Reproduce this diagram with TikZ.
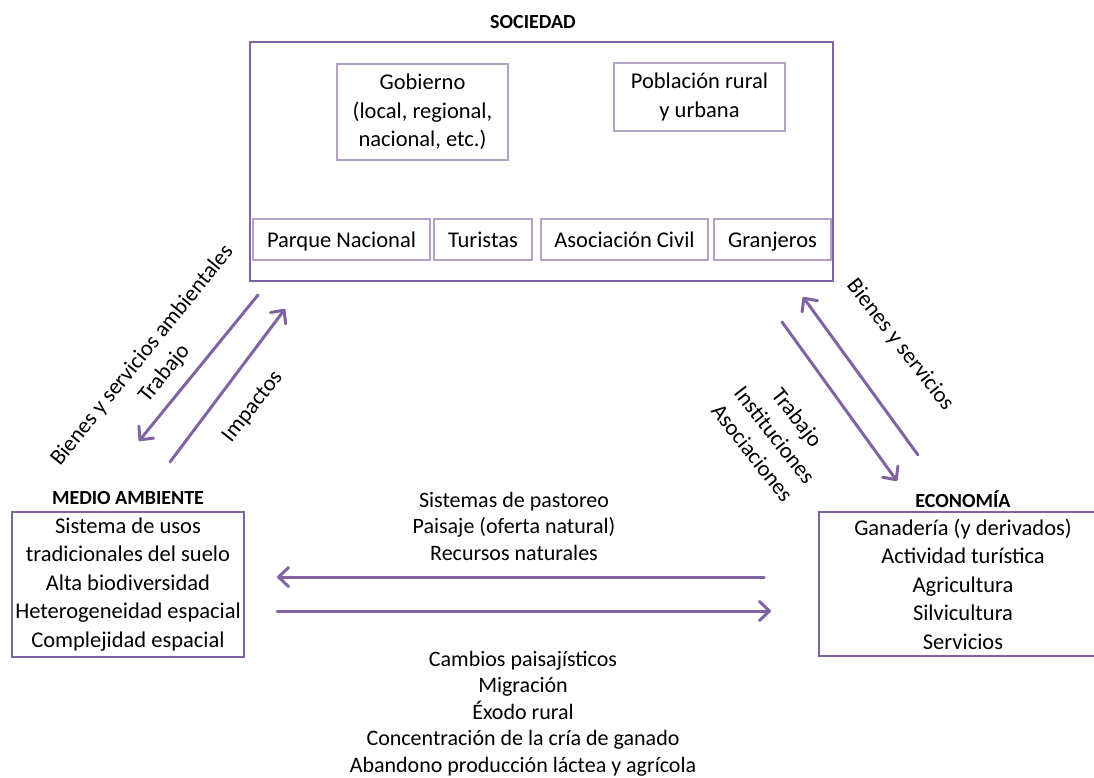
\documentclass[tikz,border=0pt]{standalone}
\usepackage{fontspec}
\setmainfont{Carlito}
\usetikzlibrary{arrows.meta}

\definecolor{lineviolet}{HTML}{8064A2}
\definecolor{paleviolet}{HTML}{B3A2C7}

\newcommand\dgbody{\fontsize{22.5}{28.5}\selectfont}
\newcommand\dgfree{\fontsize{22}{26.5}\selectfont}
\newcommand\dgtitle{\fontsize{20}{24}\selectfont\bfseries}

\tikzset{
  frame/.style={draw=lineviolet, line width=2.2pt, inner sep=0pt, align=center, font=\dgbody},
  subbox/.style={draw=paleviolet, line width=1.4pt, inner sep=0pt, align=center, font=\dgbody},
  rowbox/.style={subbox, minimum height=41pt, text height=20pt, text depth=3.5pt},
  heading/.style={inner sep=0pt, font=\dgtitle},
  freetext/.style={inner sep=0pt, align=center, font=\dgfree},
  flow/.style={draw=lineviolet, line width=3pt, line cap=round,
    -{Straight Barb[length=10pt,width=19pt,line width=3pt,round]}}
}

\begin{document}
\begin{tikzpicture}[x=1pt,y=-1pt]
\useasboundingbox (0,0) rectangle (1094,778);
\clip (0,0) rectangle (1094,778);

% Sociedad
\node[heading] (soctitle) at (533,22) {SOCIEDAD};
\node[frame, minimum width=583pt, minimum height=239pt] (soc) at (541.5,161.5) {};
\node[subbox, minimum width=171pt, minimum height=96pt] (gob) at (422.5,112)
  {Gobierno\\(local, regional,\\nacional, etc.)};
\node[subbox, minimum width=171pt, minimum height=68pt] (pob) at (699.5,97)
  {Población rural\\y urbana};
\node[rowbox, minimum width=177pt] (parque) at (341.5,239.5) {Parque Nacional};
\node[rowbox, minimum width=98pt] (tur) at (483,239.5) {Turistas};
\node[rowbox, minimum width=167pt] (asoc) at (624.5,239.5) {Asociación Civil};
\node[rowbox, minimum width=117pt] (gran) at (772.5,239.5) {Granjeros};

% Medio ambiente
\node[heading] (medtitle) at (128,498) {MEDIO AMBIENTE};
\node[frame, minimum width=232pt, minimum height=145pt] (med) at (128,584.5)
  {Sistema de usos\\tradicionales del suelo\\Alta biodiversidad\\Heterogeneidad espacial\\Complejidad espacial};

% Economia
\node[heading] (ecotitle) at (963,499) {ECONOMÍA};
\node[frame, minimum width=288pt, minimum height=144pt] (eco) at (963,584)
  {Ganadería (y derivados)\\Actividad turística\\Agricultura\\Silvicultura\\Servicios};

% Sociedad <-> Medio ambiente
\coordinate (sm1a) at (258,295);
\coordinate (sm1b) at (139,441);
\coordinate (sm2a) at (170,462);
\coordinate (sm2b) at (285,309);
\draw[flow] (sm1a) -- (sm1b);
\draw[flow] (sm2a) -- (sm2b);
\node[freetext, font=\dgbody, rotate=51] (lblsm1) at (153.5,364.5)
  {Bienes y servicios ambientales\\Trabajo};
\node[freetext, font=\dgbody, rotate=52] (lblsm2) at (253,407) {Impactos};

% Sociedad <-> Economia
\coordinate (se1a) at (782,322);
\coordinate (se1b) at (897,481);
\coordinate (se2a) at (918,455);
\coordinate (se2b) at (803,297);
\draw[flow] (se1a) -- (se1b);
\draw[flow] (se2a) -- (se2b);
\node[freetext, font=\dgbody, rotate=-52] (lblse2) at (900,345) {Bienes y servicios};
\node[freetext, font=\dgbody, rotate=-52] (lblse1) at (775,435)
  {Trabajo\\Instituciones\\Asociaciones};

% Economia <-> Medio ambiente
\coordinate (em1a) at (764,577);
\coordinate (em1b) at (277,577);
\coordinate (em2a) at (277,611);
\coordinate (em2b) at (771,611);
\draw[flow] (em1a) -- (em1b);
\draw[flow] (em2a) -- (em2b);
\node[freetext] (lblem1) at (514,526)
  {Sistemas de pastoreo\\Paisaje (oferta natural)\\Recursos naturales};
\node[freetext] (lblem2) at (523,713.5)
  {Cambios paisajísticos\\Migración\\Éxodo rural\\Concentración de la cría de ganado\\Abandono producción láctea y agrícola};
\end{tikzpicture}
\end{document}
